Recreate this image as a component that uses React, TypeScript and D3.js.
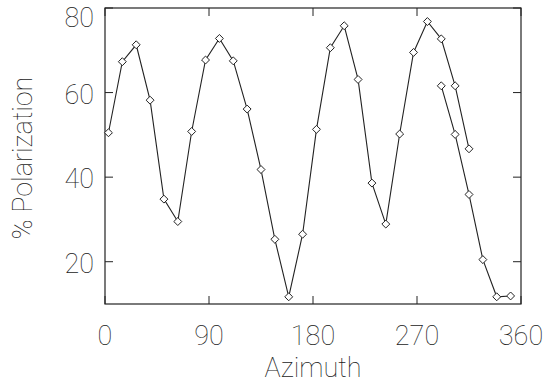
import React, { useEffect, useRef } from "react";
import * as d3 from "d3";

// azimuth (deg) of each measurement
const azimuthMain = [
  3, 15, 27, 39, 51, 63, 75, 87, 99, 111, 123, 135, 147, 159, 171, 183, 195,
  207, 219, 231, 243, 255, 267, 279, 291, 303, 315,
];
const polMain = [
  50.5, 67.3, 71.3, 58.2, 34.8, 29.5, 50.8, 67.7, 72.8, 67.5, 56.1, 41.8, 25.3,
  11.7, 26.5, 51.3, 70.6, 75.8, 63.1, 38.6, 28.9, 50.2, 69.5, 76.8, 72.7, 61.6,
  46.7,
];

const azimuthTail = [291, 303, 315, 327, 339, 351];
const polTail = [61.6, 50.1, 35.9, 20.5, 11.7, 11.9];

const xTicks = [0, 90, 180, 270, 360];
const yTicks = [20, 40, 60, 80];

const App = () => {
  const svgRef = useRef<SVGSVGElement>(null);

  useEffect(() => {
    const W = 552;
    const H = 383;
    const margin = { top: 8, right: 31, bottom: 79, left: 105 };
    const font = "Roboto, 'DejaVu Sans', sans-serif";
    const weight = 100;
    const ink = "#222";
    const textInk = "#1a1a1a";

    const svg = d3.select(svgRef.current);
    svg.selectAll("*").remove();
    svg.attr("width", W).attr("height", H);

    svg.append("rect").attr("width", W).attr("height", H).attr("fill", "#fff");

    const x = d3
      .scaleLinear()
      .domain([0, 360])
      .range([margin.left, W - margin.right]);
    const y = d3
      .scaleLinear()
      .domain([10, 80])
      .range([H - margin.bottom, margin.top]);

    const [x0, x1] = x.range();
    const [y0, y1] = y.range();

    // frame
    svg
      .append("rect")
      .attr("x", x0)
      .attr("y", y1)
      .attr("width", x1 - x0)
      .attr("height", y0 - y1)
      .attr("fill", "none")
      .attr("stroke", ink)
      .attr("stroke-width", 1.2);

    const tickLen = 8;
    const g = svg.append("g").attr("stroke", ink).attr("stroke-width", 1);
    xTicks.forEach((t) => {
      g.append("line").attr("x1", x(t)).attr("x2", x(t)).attr("y1", y0).attr("y2", y0 - tickLen);
      g.append("line").attr("x1", x(t)).attr("x2", x(t)).attr("y1", y1).attr("y2", y1 + tickLen);
    });
    yTicks.forEach((t) => {
      g.append("line").attr("x1", x0).attr("x2", x0 + tickLen).attr("y1", y(t)).attr("y2", y(t));
      g.append("line").attr("x1", x1).attr("x2", x1 - tickLen).attr("y1", y(t)).attr("y2", y(t));
    });

    const label = (sel: any) =>
      sel
        .attr("font-family", font)
        .attr("font-weight", weight)
        .attr("font-size", 27)
        .attr("fill", textInk);

    // tick labels
    svg
      .selectAll(".xlab")
      .data(xTicks)
      .join("text")
      .attr("x", (d) => x(d))
      .attr("y", 345)
      .attr("text-anchor", "middle")
      .call(label)
      .text((d) => d);

    svg
      .selectAll(".ylab")
      .data(yTicks)
      .join("text")
      .attr("x", x0 - 11)
      .attr("y", (d) => Math.max(y(d) + 11, 27))
      .attr("text-anchor", "end")
      .call(label)
      .text((d) => d);

    // axis titles
    svg
      .append("text")
      .attr("x", (x0 + x1) / 2)
      .attr("y", 377)
      .attr("text-anchor", "middle")
      .call(label)
      .text("Azimuth");

    svg
      .append("text")
      .attr("transform", `translate(32,${(y0 + y1) / 2 + 2}) rotate(-90)`)
      .attr("text-anchor", "middle")
      .call(label)
      .text("% Polarization");

    // data
    const series = [
      azimuthMain.map((a, i) => [a, polMain[i]] as [number, number]),
      azimuthTail.map((a, i) => [a, polTail[i]] as [number, number]),
    ];

    const line = d3
      .line<[number, number]>()
      .x((d) => x(d[0]))
      .y((d) => y(d[1]));

    const diamond = d3.symbol().type(d3.symbolDiamond2).size(40);

    series.forEach((pts) => {
      svg
        .append("path")
        .datum(pts)
        .attr("fill", "none")
        .attr("stroke", ink)
        .attr("stroke-width", 1.1)
        .attr("d", line);

      svg
        .append("g")
        .selectAll("path")
        .data(pts)
        .join("path")
        .attr("transform", (d) => `translate(${x(d[0])},${y(d[1])})`)
        .attr("d", diamond)
        .attr("fill", "#fff")
        .attr("stroke", ink)
        .attr("stroke-width", 1);
    });
  }, []);

  return (
    <div style={{ position: "absolute", left: 0, top: 0 }}>
      <svg ref={svgRef} style={{ display: "block" }} />
    </div>
  );
};

export default App;
